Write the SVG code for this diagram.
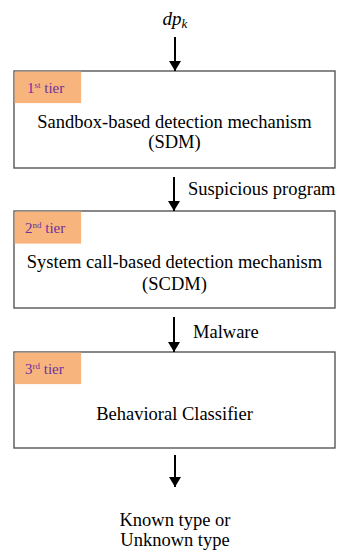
<svg xmlns="http://www.w3.org/2000/svg" width="338" height="550" viewBox="0 0 338 550">
<style>
.box{fill:#fff;stroke:#4a4a4a;stroke-width:1.3}
.tag{fill:#F7B57D}
.tt{font-size:15px;fill:#7030A0}
.t{font-size:18.5px;fill:#000;text-anchor:middle}
.lbl{font-size:18.5px;fill:#000}
.c{stroke:#000;stroke-width:2;fill:none;marker-end:url(#ah)}
</style>
<defs>
<marker id="ah" markerWidth="10" markerHeight="12" refX="10" refY="6" orient="auto" markerUnits="userSpaceOnUse" viewBox="0 0 10 12">
<path d="M0,0 L10,6 L0,12 Z" fill="#000"/>
</marker>
</defs>
<g id="input">
<text x="175" y="25" font-family="Liberation Serif" font-style="italic" font-size="19" text-anchor="middle">dp<tspan font-size="13" dy="3">k</tspan></text>
</g>
<g id="tier1">
<rect class="box" x="14" y="71" width="321" height="97"/>
<rect class="tag" x="14.6" y="71.6" width="66.5" height="31.5"/>
<text class="tt" x="27" y="93" font-family="Liberation Serif">1<tspan font-size="9" dy="-5">st</tspan><tspan dy="5"> tier</tspan></text>
<text class="t" x="174.5" y="128" font-family="Liberation Serif">Sandbox-based detection mechanism</text>
<text class="t" x="174.5" y="148" font-family="Liberation Serif">(SDM)</text>
</g>
<g id="tier2">
<rect class="box" x="14" y="211" width="321" height="97"/>
<rect class="tag" x="14.6" y="211.6" width="66.5" height="32"/>
<text class="tt" x="25" y="233" font-family="Liberation Serif">2<tspan font-size="9" dy="-5">nd</tspan><tspan dy="5"> tier</tspan></text>
<text class="t" x="174.5" y="268" font-family="Liberation Serif">System call-based detection mechanism</text>
<text class="t" x="174.5" y="290" font-family="Liberation Serif">(SCDM)</text>
</g>
<g id="tier3">
<rect class="box" x="14" y="352" width="321" height="96"/>
<rect class="tag" x="14.6" y="352.6" width="66.5" height="31.5"/>
<text class="tt" x="25" y="374" font-family="Liberation Serif">3<tspan font-size="9" dy="-5">rd</tspan><tspan dy="5"> tier</tspan></text>
<text class="t" x="174.5" y="420" font-family="Liberation Serif">Behavioral Classifier</text>
</g>
<g id="output">
<text class="t" x="175" y="526" font-family="Liberation Serif">Known type or</text>
<text class="t" x="175" y="546" font-family="Liberation Serif">Unknown type</text>
</g>
<g id="connectors">
<line class="c" x1="175" y1="37" x2="175" y2="71"/>
<line class="c" x1="174" y1="177" x2="174" y2="211"/>
<text class="lbl" x="188" y="195" font-family="Liberation Serif">Suspicious program</text>
<line class="c" x1="174" y1="317" x2="174" y2="352"/>
<text class="lbl" x="193" y="338" font-family="Liberation Serif">Malware</text>
<line class="c" x1="175" y1="455" x2="175" y2="487"/>
</g>
</svg>
